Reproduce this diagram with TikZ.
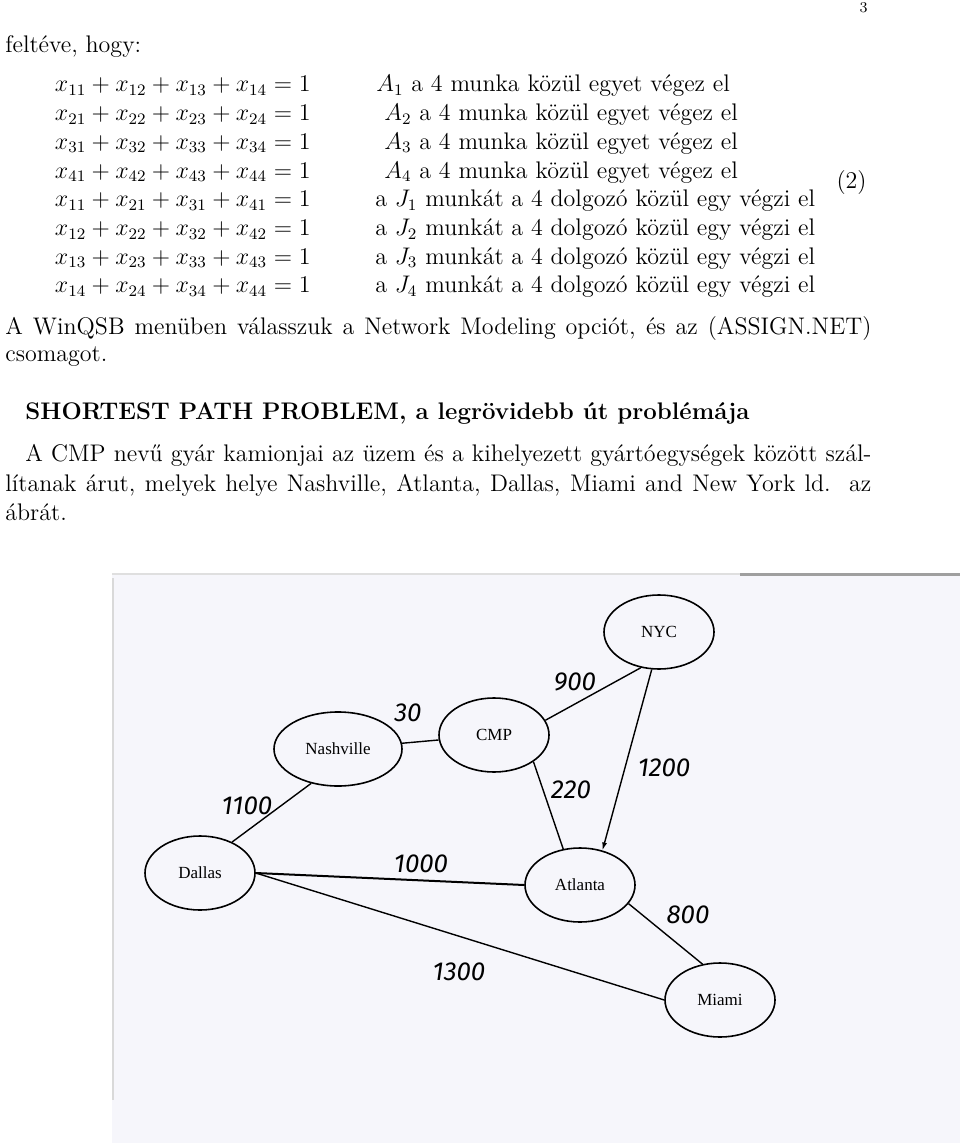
\documentclass[tikz,border=0pt,12pt]{standalone}
\usepackage{fontspec}
\newfontfamily\scanfont{Liberation Serif}
\newfontfamily\handfont{Fira Sans}
\usepackage{xcolor}
\usetikzlibrary{positioning, arrows.meta, shapes.geometric}
\definecolor{scanbg}{RGB}{246,246,251}

\begin{document}
\begin{tikzpicture}[
  x=0.5pt, y=-0.5pt,
  font=\fontsize{12}{14.5}\selectfont,
  txt/.style={anchor=base west, inner sep=0pt},
  eqn/.style={anchor=base east, inner sep=0pt},
  city/.style={draw, ellipse, line width=0.8pt, minimum width=55pt,
               minimum height=37pt, inner sep=0pt,
               font=\scanfont\fontsize{8.5}{10}\selectfont},
  road/.style={line width=0.7pt},
  dist/.style={font=\handfont\itshape\fontsize{13}{15}\selectfont, inner sep=0pt}
]
  \useasboundingbox (0,0) rectangle (960,1143);

  % --- page number and opening line ---
  \node[anchor=base east, inner sep=0pt, font=\fontsize{7.5}{9}\selectfont]
    (pageno) at (868,13) {3};
  \node[txt] (feltve) at (5,53) {feltéve, hogy:};

  % --- constraints, left column ---
  \node[eqn] (e1) at (311,92)    {$x_{11}+x_{12}+x_{13}+x_{14}=1$};
  \node[eqn] (e2) at (311,120.7) {$x_{21}+x_{22}+x_{23}+x_{24}=1$};
  \node[eqn] (e3) at (311,149.4) {$x_{31}+x_{32}+x_{33}+x_{34}=1$};
  \node[eqn] (e4) at (311,178.1) {$x_{41}+x_{42}+x_{43}+x_{44}=1$};
  \node[eqn] (e5) at (311,206.8) {$x_{11}+x_{21}+x_{31}+x_{41}=1$};
  \node[eqn] (e6) at (311,235.5) {$x_{12}+x_{22}+x_{32}+x_{42}=1$};
  \node[eqn] (e7) at (311,264.2) {$x_{13}+x_{23}+x_{33}+x_{43}=1$};
  \node[eqn] (e8) at (311,292.9) {$x_{14}+x_{24}+x_{34}+x_{44}=1$};

  % --- constraints, right column ---
  \node[txt] (t1) at (376,92)    {$A_1$ a 4 munka közül egyet végez el};
  \node[txt] (t2) at (384,120.7) {$A_2$ a 4 munka közül egyet végez el};
  \node[txt] (t3) at (384,149.4) {$A_3$ a 4 munka közül egyet végez el};
  \node[txt] (t4) at (384,178.1) {$A_4$ a 4 munka közül egyet végez el};
  \node[txt] (t5) at (375,206.8) {a $J_1$ munkát a 4 dolgozó közül egy végzi el};
  \node[txt] (t6) at (375,235.5) {a $J_2$ munkát a 4 dolgozó közül egy végzi el};
  \node[txt] (t7) at (375,264.2) {a $J_3$ munkát a 4 dolgozó közül egy végzi el};
  \node[txt] (t8) at (375,292.9) {a $J_4$ munkát a 4 dolgozó közül egy végzi el};
  \node[anchor=east, inner sep=0pt] (eqno) at (867,183) {(2)};

  % --- paragraphs ---
  \node[txt] (winqsb) at (5,335)
    {\makebox[433pt][s]{A WinQSB menüben válasszuk a Network Modeling opciót, és az (ASSIGN.NET)}};
  \node[txt] (csomag) at (5,362) {csomagot.};
  \node[txt, font=\fontsize{12}{14.5}\selectfont\bfseries] (title) at (25,420)
    {SHORTEST PATH PROBLEM, a legrövidebb út problémája};
  \node[txt] (cmpline1) at (25,462)
    {\makebox[423pt][s]{A CMP nevű gyár kamionjai az üzem és a kihelyezett gyártóegységek között szál-}};
  \node[txt] (cmpline2) at (5,491)
    {\makebox[433pt][s]{lítanak árut, melyek helye Nashville, Atlanta, Dallas, Miami and New York ld.\ \ az}};
  \node[txt] (abrat) at (5,520) {ábrát.};

  % --- scanned sheet ---
  \fill[scanbg] (112,574) rectangle (960,1143);
  \draw[gray!30, line width=1pt] (113,578) -- (113,1100);
  \draw[gray!25, line width=1.2pt] (112,574) -- (740,574);
  \draw[gray!75, line width=1.5pt] (740,574) -- (960,574);

  % --- cities ---
  \node[city] (nyc)  at (659,632) {NYC};
  \node[city] (cmp)  at (494,735) {CMP};
  \node[city, minimum width=64pt] (nash) at (338,749) {Nashville};
  \node[city] (dal)  at (200,873) {Dallas};
  \node[city] (atl)  at (580,885) {Atlanta};
  \node[city] (mia)  at (720,1000) {Miami};

  % --- roads ---
  \draw[road] (nash) -- (cmp);
  \draw[road] (nash.232) -- (dal.44);
  \draw[road] (cmp.16) -- (nyc.243);
  \draw[road] (cmp.south east) -- (atl.115);
  \draw[road, -{Latex[length=4pt, width=2.5pt]}] (nyc.259) -- (atl.57);
  \draw[road, line width=1pt] (dal.east) -- (atl.west);
  \draw[road] (dal.east) -- (mia.west);
  \draw[road] (atl.-21) -- (mia.116);

  % --- distances ---
  \node[dist] (dNashCmp) at (408,713) {30};
  \node[dist] (dCmpNyc)  at (575,682) {900};
  \node[dist] (dNashDal) at (247,806) {1100};
  \node[dist] (dCmpAtl)  at (571,790) {220};
  \node[dist] (dNycAtl)  at (664,768) {1200};
  \node[dist] (dDalAtl)  at (421,864) {1000};
  \node[dist] (dAtlMia)  at (688,915) {800};
  \node[dist] (dDalMia)  at (459,972) {1300};
\end{tikzpicture}
\end{document}
